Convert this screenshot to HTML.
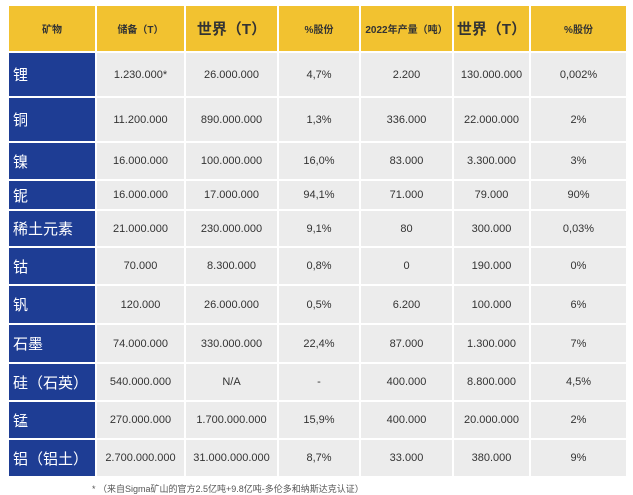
<!DOCTYPE html>
<html><head><meta charset="utf-8"><style>
body{margin:0;width:633px;height:495px;background:#fff;position:relative;overflow:hidden;font-family:"Liberation Sans","Noto Sans CJK SC",sans-serif;}
.c{position:absolute;display:flex;align-items:center;justify-content:center;box-sizing:border-box;font-size:11px;color:#333;}
.h{background:#F2C230;color:#333;font-weight:bold;}
.hb{font-size:15px;font-weight:normal;}
.d{background:#ECECEC;}
.m{background:#1E3D94;color:#fff;justify-content:flex-start;padding-left:4px;font-size:15px;}
#note{position:absolute;left:92px;top:482px;font-size:9px;color:#555;white-space:nowrap;}
</style></head><body>
<div id="tbl"></div>
<div id="note">* （来自Sigma矿山的官方2.5亿吨+9.8亿吨-多伦多和纳斯达克认证）</div>
<script>
const colEdges=[8,96,185,278,360,453,530,627];
const rowEdges=[5,52,97,142,180,210,247,285,324,363,401,439,477];
const headers=["矿物","储备（T）","世界（T）","%股份","2022年产量（吨）","世界（T）","%股份"];
const minerals=["锂","铜","镍","铌","稀土元素","钴","钒","石墨","硅（石英）","锰","铝（铝土）"];
const reserves=["1.230.000*","11.200.000","16.000.000","16.000.000","21.000.000","70.000","120.000","74.000.000","540.000.000","270.000.000","2.700.000.000"];
const worldRes=["26.000.000","890.000.000","100.000.000","17.000.000","230.000.000","8.300.000","26.000.000","330.000.000","N/A","1.700.000.000","31.000.000.000"];
const shareRes=["4,7%","1,3%","16,0%","94,1%","9,1%","0,8%","0,5%","22,4%","-","15,9%","8,7%"];
const prod=["2.200","336.000","83.000","71.000","80","0","6.200","87.000","400.000","400.000","33.000"];
const worldProd=["130.000.000","22.000.000","3.300.000","79.000","300.000","190.000","100.000","1.300.000","8.800.000","20.000.000","380.000"];
const shareProd=["0,002%","2%","3%","90%","0,03%","0%","6%","7%","4,5%","2%","9%"];
const tbl=document.getElementById('tbl');
function cell(r,c,text,cls,fs){
  const el=document.createElement('div');
  el.className='c '+cls;
  el.style.left=(colEdges[c]+1)+'px';
  el.style.top=(rowEdges[r]+1)+'px';
  el.style.width=(colEdges[c+1]-colEdges[c]-2)+'px';
  el.style.height=(rowEdges[r+1]-rowEdges[r]-2)+'px';
  if(fs)el.style.fontSize=fs+'px';
  el.textContent=text;
  
  
  tbl.appendChild(el);
}
headers.forEach((h,c)=>{
  let fs=(c==2||c==5)?15:(c==4?10:10);
  cell(0,c,h,'h',fs);
});
const cols=[minerals,reserves,worldRes,shareRes,prod,worldProd,shareProd];
minerals.forEach((m,i)=>{
  cols.forEach((arr,c)=>{
    cell(i+1,c,arr[i],c==0?'m':'d',c==0?(m.length>3?15:15):null);
  });
});
</script>
</body></html>
